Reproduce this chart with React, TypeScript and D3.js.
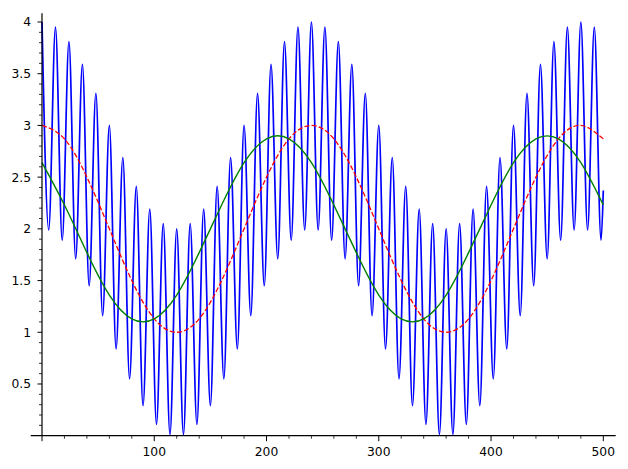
import React from "react";
import * as d3 from "d3";

// ---- data ----
// fast oscillating curve: extrema positions and values
const blueX = [
  0, 6, 12, 18, 24, 30, 36, 42, 48, 54, 60, 66, 72, 78, 84, 90, 96, 102, 108, 114,
  120, 126, 132, 138, 144, 150, 156, 162, 168, 174, 180, 186, 192, 198, 204, 210, 216, 222, 228, 234,
  240, 246, 252, 258, 264, 270, 276, 282, 288, 294, 300, 306, 312, 318, 324, 330, 336, 342, 348, 354,
  360, 366, 372, 378, 384, 390, 396, 402, 408, 414, 420, 426, 432, 438, 444, 450, 456, 462, 468, 474,
  480, 486, 492, 498, 500,
];
const blueY = [
  4.0, 1.99, 3.95, 1.89, 3.81, 1.71, 3.59, 1.45, 3.31, 1.16, 3.0, 0.84, 2.69, 0.55, 2.41, 0.29, 2.19, 0.11, 2.05, 0.01,
  2.0, 0.01, 2.05, 0.11, 2.19, 0.29, 2.41, 0.55, 2.69, 0.84, 3.0, 1.16, 3.31, 1.45, 3.59, 1.71, 3.81, 1.89, 3.95, 1.99,
  4.0, 1.99, 3.95, 1.89, 3.81, 1.71, 3.59, 1.45, 3.31, 1.16, 3.0, 0.84, 2.69, 0.55, 2.41, 0.29, 2.19, 0.11, 2.05, 0.01,
  2.0, 0.01, 2.05, 0.11, 2.19, 0.29, 2.41, 0.55, 2.69, 0.84, 3.0, 1.16, 3.31, 1.45, 3.59, 1.71, 3.81, 1.89, 3.95, 1.99,
  4.0, 1.99, 3.95, 1.89, 2.37,
];

const slowX = [
  0, 20, 40, 60, 80, 100, 120, 140, 160, 180, 200, 220, 240,
  260, 280, 300, 320, 340, 360, 380, 400, 420, 440, 460, 480, 500,
];
const redY = [
  3.0, 2.87, 2.5, 2.0, 1.5, 1.13, 1.0, 1.13, 1.5, 2.0, 2.5, 2.87, 3.0,
  2.87, 2.5, 2.0, 1.5, 1.13, 1.0, 1.13, 1.5, 2.0, 2.5, 2.87, 3.0, 2.87,
];
const greenY = [
  2.64, 2.23, 1.77, 1.36, 1.13, 1.13, 1.36, 1.77, 2.23, 2.64, 2.87, 2.87, 2.64,
  2.23, 1.77, 1.36, 1.13, 1.13, 1.36, 1.77, 2.23, 2.64, 2.87, 2.87, 2.64, 2.23,
];

const xMajor = [0, 100, 200, 300, 400, 500];
const xLabels = ["", "100", "200", "300", "400", "500"];
const xMinor = [20, 40, 60, 80, 120, 140, 160, 180, 220, 240, 260, 280, 320, 340, 360, 380, 420, 440, 460, 480];
const yMajor = [0.5, 1, 1.5, 2, 2.5, 3, 3.5, 4];
const yLabels = ["0.5", "1", "1.5", "2", "2.5", "3", "3.5", "4"];
const yMinor = [
  0.1, 0.2, 0.3, 0.4, 0.6, 0.7, 0.8, 0.9, 1.1, 1.2, 1.3, 1.4, 1.6, 1.7, 1.8, 1.9,
  2.1, 2.2, 2.3, 2.4, 2.6, 2.7, 2.8, 2.9, 3.1, 3.2, 3.3, 3.4, 3.6, 3.7, 3.8, 3.9,
];

const W = 628;
const H = 469;

export default function App() {
  const x = d3.scaleLinear().domain([0, 500]).range([42, 603.3]);
  const y = d3.scaleLinear().domain([0, 4]).range([435.7, 22]);

  const blueLine = d3
    .line<number>()
    .x((_, i) => x(blueX[i]))
    .y((d) => y(d))
    .curve(d3.curveMonotoneX);
  const slowLine = d3
    .line<number>()
    .x((_, i) => x(slowX[i]))
    .y((d) => y(d))
    .curve(d3.curveNatural);

  const axisColor = "#000";
  const font = "DejaVu Sans, sans-serif";
  const x0 = x(0);
  const y0 = y(0);

  return (
    <svg
      width={W}
      height={H}
      style={{ position: "absolute", left: 0, top: 0, background: "#fff" }}
    >
      <rect x={0} y={0} width={W} height={H} fill="#fff" />
      <path d={blueLine(blueY) || ""} fill="none" stroke="#0000ff" strokeWidth={1.7} />
      <path
        d={slowLine(redY) || ""}
        fill="none"
        stroke="#ff0000"
        strokeWidth={1.3}
        strokeDasharray="5.1,2.2"
      />
      <path d={slowLine(greenY) || ""} fill="none" stroke="#008000" strokeWidth={1.4} />

      {/* axes */}
      <line x1={30.7} x2={615.7} y1={y0} y2={y0} stroke={axisColor} strokeWidth={1.2} />
      <line x1={x0} x2={x0} y1={13.3} y2={y0} stroke={axisColor} strokeWidth={1.2} />

      {xMajor.map((v, i) => (
        <g key={"xm" + v}>
          <line x1={x(v)} x2={x(v)} y1={y0} y2={y0 + 5.5} stroke={axisColor} strokeWidth={1} />
          <text
            x={x(v)}
            y={455.5}
            fontFamily={font}
            fontSize={12.3}
            textAnchor="middle"
            fill="#000"
          >
            {xLabels[i]}
          </text>
        </g>
      ))}
      {xMinor.map((v) => (
        <line key={"xn" + v} x1={x(v)} x2={x(v)} y1={y0} y2={y0 + 3} stroke={axisColor} strokeWidth={0.8} />
      ))}
      {yMajor.map((v, i) => (
        <g key={"ym" + v}>
          <line x1={x0 - 4.5} x2={x0} y1={y(v)} y2={y(v)} stroke={axisColor} strokeWidth={1} />
          <text
            x={31}
            y={y(v)}
            dy="0.36em"
            fontFamily={font}
            fontSize={12.3}
            textAnchor="end"
            fill="#000"
          >
            {yLabels[i]}
          </text>
        </g>
      ))}
      {yMinor.map((v) => (
        <line key={"yn" + v} x1={x0 - 3} x2={x0} y1={y(v)} y2={y(v)} stroke={axisColor} strokeWidth={0.8} />
      ))}
    </svg>
  );
}
